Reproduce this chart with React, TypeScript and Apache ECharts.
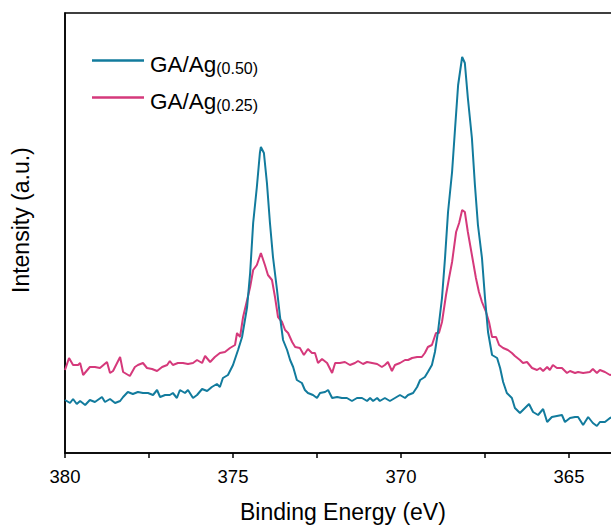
import React, { useEffect, useRef } from "react";
import * as echarts from "echarts";

const seriesNames = ["GA/Ag(0.50)", "GA/Ag(0.25)"];
const seriesColors = ["#127b9d", "#d5397b"];

// Binding energy (eV) and intensity (a.u.) for GA/Ag(0.50)
const energy050 = [
  380.0, 379.85, 379.76, 379.65, 379.55, 379.4, 379.26, 379.11, 378.9, 378.81, 378.66, 378.51, 378.36, 378.27,
  378.13, 377.98, 377.83, 377.68, 377.53, 377.38, 377.26, 377.17, 377.02, 376.88, 376.79, 376.67, 376.58, 376.43,
  376.34, 376.19, 376.07, 375.92, 375.77, 375.63, 375.48, 375.39, 375.3, 375.15, 375.0, 374.85, 374.73, 374.58,
  374.49, 374.4, 374.29, 374.2, 374.17, 374.08, 373.99, 373.9, 373.81, 373.69, 373.6, 373.51, 373.39, 373.3,
  373.21, 373.1, 372.95, 372.86, 372.77, 372.62, 372.5, 372.41, 372.26, 372.17, 372.05, 371.9, 371.76, 371.61,
  371.46, 371.31, 371.16, 371.01, 370.92, 370.83, 370.71, 370.63, 370.48, 370.33, 370.18, 370.03, 369.88, 369.79,
  369.64, 369.52, 369.43, 369.29, 369.2, 369.08, 368.99, 368.9, 368.78, 368.69, 368.6, 368.48, 368.39, 368.3,
  368.18, 368.1, 368.01, 367.89, 367.8, 367.71, 367.59, 367.5, 367.41, 367.29, 367.14, 367.05, 366.96, 366.85,
  366.7, 366.61, 366.46, 366.31, 366.19, 366.07, 365.92, 365.77, 365.65, 365.51, 365.36, 365.21, 365.12, 364.97,
  364.82, 364.73, 364.58, 364.43, 364.29, 364.17, 364.08, 363.93, 363.78, 363.63,
];
const intensity050 = [
  53, 50, 54, 49, 52, 48, 53, 51, 56, 51, 54, 50, 52, 56,
  61, 59, 61, 60, 60, 58, 63, 56, 58, 58, 60, 55, 63, 60,
  63, 55, 58, 64, 62, 66, 69, 66, 75, 78, 88, 103, 116, 146,
  180, 230, 266, 300, 306, 300, 270, 230, 196, 163, 136, 113, 103, 93,
  86, 73, 70, 63, 60, 58, 55, 60, 61, 63, 55, 56, 55, 55,
  52, 55, 55, 52, 55, 52, 55, 52, 55, 52, 55, 58, 55, 58,
  60, 66, 73, 76, 81, 88, 101, 121, 155, 195, 241, 281, 325, 368,
  396, 390, 355, 315, 268, 228, 195, 155, 121, 98, 95, 85, 71, 60,
  55, 45, 40, 45, 49, 41, 38, 44, 31, 36, 37, 38, 31, 35,
  36, 36, 28, 36, 30, 27, 31, 31, 35, 37,
];

// Binding energy (eV) and intensity (a.u.) for GA/Ag(0.25)
const energy025 = [
  380.0, 379.88, 379.76, 379.61, 379.55, 379.46, 379.26, 379.11, 378.96, 378.75, 378.66, 378.57, 378.36, 378.27,
  378.07, 377.92, 377.83, 377.68, 377.56, 377.41, 377.26, 377.11, 376.96, 376.88, 376.79, 376.64, 376.49, 376.34,
  376.19, 376.07, 375.92, 375.83, 375.68, 375.54, 375.39, 375.24, 375.09, 374.94, 374.88, 374.79, 374.7, 374.58,
  374.49, 374.4, 374.29, 374.17, 374.05, 373.96, 373.84, 373.75, 373.66, 373.54, 373.45, 373.36, 373.24, 373.15,
  373.01, 372.89, 372.77, 372.65, 372.56, 372.47, 372.35, 372.2, 372.05, 371.96, 371.82, 371.67, 371.52, 371.37,
  371.28, 371.13, 371.01, 370.86, 370.71, 370.57, 370.48, 370.39, 370.27, 370.18, 370.03, 369.88, 369.79, 369.67,
  369.52, 369.38, 369.29, 369.2, 369.08, 368.96, 368.87, 368.78, 368.66, 368.57, 368.48, 368.36, 368.27, 368.18,
  368.1, 368.01, 367.89, 367.77, 367.68, 367.59, 367.47, 367.38, 367.29, 367.17, 367.08, 366.96, 366.82, 366.7,
  366.61, 366.46, 366.37, 366.25, 366.1, 365.95, 365.86, 365.77, 365.65, 365.57, 365.48, 365.36, 365.21, 365.06,
  364.97, 364.82, 364.73, 364.58, 364.38, 364.29, 364.17, 364.08, 363.93, 363.78, 363.63,
];
const intensity025 = [
  83, 95, 88, 88, 90, 78, 86, 86, 85, 91, 80, 82, 96, 81,
  77, 86, 88, 90, 85, 84, 82, 86, 88, 92, 88, 90, 90, 89,
  90, 93, 90, 97, 91, 96, 100, 101, 105, 108, 120, 116, 136, 153,
  166, 183, 188, 200, 188, 178, 173, 156, 136, 131, 123, 120, 111, 106,
  105, 98, 104, 100, 100, 90, 94, 90, 80, 90, 90, 91, 88, 90,
  92, 89, 91, 90, 89, 86, 88, 91, 82, 88, 90, 93, 93, 95,
  96, 96, 100, 106, 108, 120, 120, 131, 158, 175, 191, 221, 230, 243,
  241, 221, 198, 175, 161, 151, 141, 131, 116, 116, 108, 105, 103, 100,
  97, 93, 90, 91, 85, 83, 85, 82, 86, 83, 88, 85, 85, 80,
  82, 80, 81, 80, 81, 84, 80, 83, 81, 78, 79,
];

const xMin = 362.5;
const xMax = 380;
const xInterval = 2.5;
const yMin = 0;
const yMax = 440;

const FONT = "Liberation Sans, Arial, sans-serif";

export default function App() {
  const ref = useRef<HTMLDivElement>(null);

  useEffect(() => {
    if (!ref.current) return;
    const chart = echarts.init(ref.current, null, { renderer: "svg" });
    const toPairs = (xs: number[], ys: number[]) => xs.map((x, i) => [x, ys[i]]);
    const subs = ["(0.50)", "(0.25)"];
    chart.setOption({
      animation: false,
      backgroundColor: "#ffffff",
      grid: {
        left: 65,
        top: 13,
        bottom: 72,
        right: 7,
        show: true,
        borderColor: "#000",
        borderWidth: 1.5,
        backgroundColor: "transparent",
      },
      legend: {
        orient: "vertical",
        left: 87,
        top: 48,
        itemWidth: 52,
        itemHeight: 2.5,
        itemGap: 14,
        icon: "rect",
        data: seriesNames,
        formatter: (name: string) => {
          const i = seriesNames.indexOf(name);
          return `{a|GA/Ag}{b|${subs[i]}}`;
        },
        textStyle: {
          padding: [5, 0, 0, 1],
          rich: {
            a: { fontFamily: FONT, fontSize: 22.5, color: "#000", lineHeight: 26, verticalAlign: "bottom" },
            b: { fontFamily: FONT, fontSize: 16, color: "#000", lineHeight: 8, verticalAlign: "bottom" },
          },
        },
      },
      xAxis: {
        type: "value",
        inverse: true,
        min: xMin,
        max: xMax,
        interval: xInterval,
        axisLine: { show: true, lineStyle: { color: "#000", width: 1.5 } },
        axisTick: { show: true, length: 5, lineStyle: { color: "#000", width: 1.5 } },
        axisLabel: {
          margin: 14,
          fontFamily: FONT,
          fontSize: 18.5,
          color: "#000",
          formatter: (v: number) => (Math.abs(v % 5) < 1e-6 ? String(v) : ""),
        },
        splitLine: { show: false },
      },
      yAxis: {
        type: "value",
        min: yMin,
        max: yMax,
        axisLine: { show: true, lineStyle: { color: "#000", width: 1.5 } },
        axisTick: { show: false },
        axisLabel: { show: false },
        splitLine: { show: false },
      },
      graphic: [
        {
          type: "text",
          left: 240,
          top: 500,
          style: { text: "Binding Energy (eV)", font: `23px ${FONT}`, fill: "#000" },
        },
        {
          type: "text",
          x: 9,
          y: 293,
          rotation: Math.PI / 2,
          style: { text: "Intensity (a.u.)", font: `23px ${FONT}`, fill: "#000" },
        },
      ],
      series: [
        {
          name: seriesNames[0],
          type: "line",
          data: toPairs(energy050, intensity050),
          showSymbol: false,
          symbol: "none",
          lineStyle: { color: seriesColors[0], width: 2 },
          itemStyle: { color: seriesColors[0] },
          z: 3,
        },
        {
          name: seriesNames[1],
          type: "line",
          data: toPairs(energy025, intensity025),
          showSymbol: false,
          symbol: "none",
          lineStyle: { color: seriesColors[1], width: 2 },
          itemStyle: { color: seriesColors[1] },
          z: 2,
        },
      ],
    });
    return () => chart.dispose();
  }, []);

  return (
    <div style={{ position: "fixed", left: 0, top: 0, width: 611, height: 525, overflow: "hidden", background: "#fff" }}>
      <div ref={ref} style={{ width: 660, height: 525 }} />
    </div>
  );
}
